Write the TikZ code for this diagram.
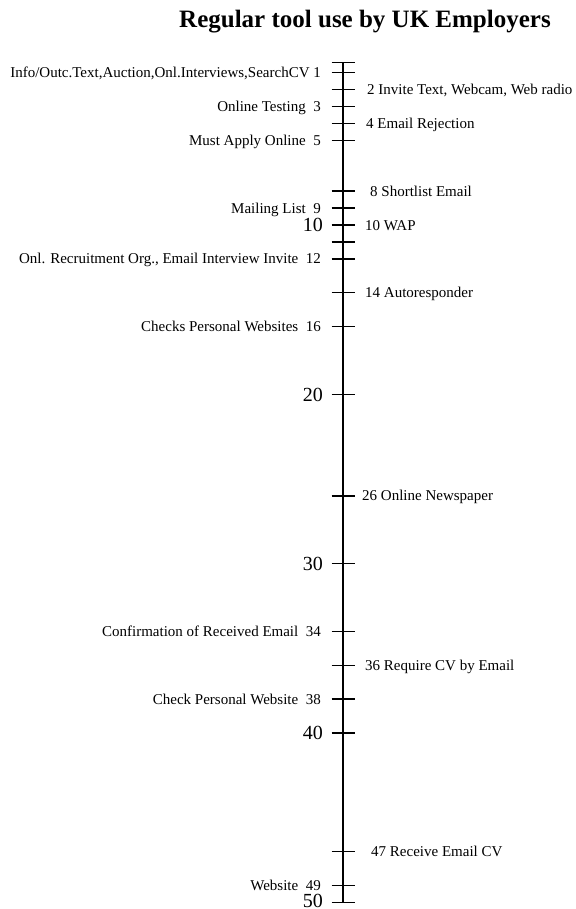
\documentclass[tikz,border=0pt]{standalone}
\usepackage{fontspec}
\setmainfont{Liberation Serif}
\usepackage{tikz}
\tikzset{
leftlab/.style={anchor=base east, inner sep=0pt, font=\fontsize{15}{18}\selectfont, yshift=-5pt},
rightlab/.style={anchor=base west, inner sep=0pt, font=\fontsize{15}{18}\selectfont, yshift=-5pt},
bignum/.style={anchor=base east, inner sep=0pt, font=\fontsize{20}{24}\selectfont, yshift=-6.8pt},
tickmark/.style={line width=1.4pt}}

\begin{document}
\begin{tikzpicture}[x=1pt,y=-1pt]
    \useasboundingbox (0,0) rectangle (575,909);

                \node[anchor=base, inner sep=0pt, font=\bfseries\fontsize{25}{30}\selectfont] (title) at (365,28) {Regular tool use by UK Employers};

                % the axis
                \coordinate (top) at (343,62.5);
                \coordinate (bot) at (343,902.2);
                \draw[tickmark] (top) -- (bot);

                % ticks
                \draw[tickmark] (331.5,62.5) -- (354.5,62.5);
                \draw[tickmark] (331.5,72.6) -- (354.5,72.6);
                \draw[tickmark] (331.5,89.6) -- (354.5,89.6);
                \draw[tickmark] (331.5,106.5) -- (354.5,106.5);
                \draw[tickmark] (331.5,123.4) -- (354.5,123.4);
                \draw[tickmark] (331.5,140.4) -- (354.5,140.4);
                \draw[tickmark] (331.5,191.1) -- (354.5,191.1);
                \draw[tickmark] (331.5,208.1) -- (354.5,208.1);
                \draw[tickmark] (331.5,225) -- (354.5,225);
                \draw[tickmark] (331.5,241.9) -- (354.5,241.9);
                \draw[tickmark] (331.5,258.9) -- (354.5,258.9);
                \draw[tickmark] (331.5,292.7) -- (354.5,292.7);
                \draw[tickmark] (331.5,326.6) -- (354.5,326.6);
                \draw[tickmark] (331.5,394.3) -- (354.5,394.3);
                \draw[tickmark] (331.5,495.9) -- (354.5,495.9);
                \draw[tickmark] (331.5,563.6) -- (354.5,563.6);
                \draw[tickmark] (331.5,631.3) -- (354.5,631.3);
                \draw[tickmark] (331.5,665.2) -- (354.5,665.2);
                \draw[tickmark] (331.5,699) -- (354.5,699);
                \draw[tickmark] (331.5,732.9) -- (354.5,732.9);
                \draw[tickmark] (331.5,851.4) -- (354.5,851.4);
                \draw[tickmark] (331.5,885.3) -- (354.5,885.3);
                \draw[tickmark] (331.5,902.2) -- (354.5,902.2);

                % big numbers
                \node[bignum] (n10) at (323,225) {10};
                \node[bignum] (n20) at (323,394.3) {20};
                \node[bignum] (n30) at (323,563.6) {30};
                \node[bignum] (n40) at (323,732.9) {40};
                \node[bignum, yshift=1.3pt] (n50) at (323,902.2) {50};

                % left side
                \node[leftlab] (l1) at (321,72.6) {Info/Outc.Text,Auction,Onl.Interviews,SearchCV 1};
                \node[leftlab] (l3) at (321,106.5) {Online Testing~~3};
                \node[leftlab] (l5) at (321,140.4) {Must Apply Online~~5};
                \node[leftlab] (l9) at (321,208.1) {Mailing List~~9};
                \node[leftlab] (l12) at (321,258.9) {Onl. Recruitment Org., Email Interview Invite~~12};
                \node[leftlab] (l16) at (321,326.6) {Checks Personal Websites~~16};
                \node[leftlab] (l34) at (321,631.3) {Confirmation of Received Email~~34};
                \node[leftlab] (l38) at (321,699) {Check Personal Website~~38};
                \node[leftlab] (l49) at (321,885.3) {Website~~49};

                % right side
                \node[rightlab] (r2) at (367,89.6) {2 Invite Text, Webcam, Web radio};
                \node[rightlab] (r4) at (366,123.4) {4 Email Rejection};
                \node[rightlab] (r8) at (370,191.1) {8 Shortlist Email};
                \node[rightlab] (r10) at (365,225) {10 WAP};
                \node[rightlab] (r14) at (365,292.7) {14 Autoresponder};
                \node[rightlab] (r26) at (362,495.9) {26 Online Newspaper};
                \node[rightlab] (r36) at (365,665.2) {36 Require CV by Email};
                \node[rightlab] (r47) at (371,851.4) {47 Receive Email CV};

            \end{tikzpicture}
\end{document}
